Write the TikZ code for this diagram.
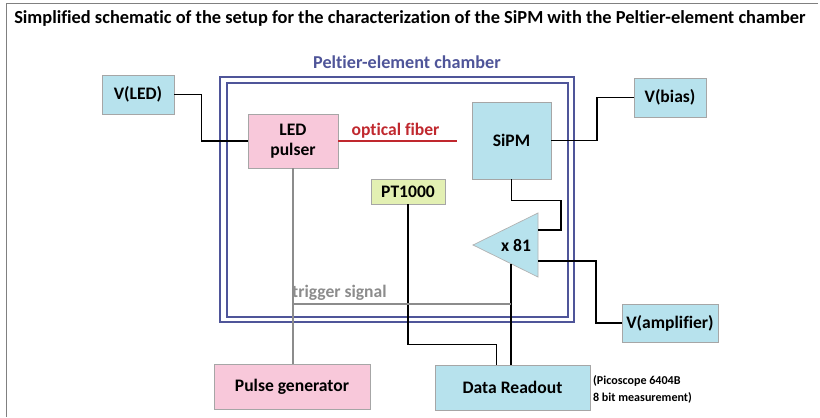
\documentclass[tikz,border=0pt]{standalone}
\usepackage{fontspec}
\setmainfont[Ligatures=NoCommon]{Carlito}
\definecolor{boxblue}{HTML}{B7E2ED}
\definecolor{boxpink}{HTML}{F8C8DA}
\definecolor{boxgreen}{HTML}{E3F0B3}
\definecolor{chamber}{HTML}{4F5599}
\definecolor{fiberred}{HTML}{C0282E}
\definecolor{trig}{HTML}{8C8C8C}
\tikzset{
  box/.style={draw=gray!70, line width=0.6pt, font=\fontsize{15}{17}\selectfont\bfseries, align=center, inner sep=0pt},
  sz/.style 2 args={minimum width=#1*0.03cm, minimum height=#2*0.03cm},
  wire/.style={line width=1.1pt, black},
  walls/.style={line width=1.2pt, draw=chamber}
}
\begin{document}
\begin{tikzpicture}[x=0.03cm, y=-0.03cm]
    \useasboundingbox (0,0) rectangle (820,417);
    % frame and title
    \draw [gray, line width=0.8pt] (818,3) -- (6,3) -- (6,417);
    \node (title) at (410,18) {\fontsize{15.7}{18}\selectfont\bfseries Simplified schematic of the setup for the characterization of the SiPM with the Peltier-element chamber};
    % chamber
    \draw [walls] (220,77) rectangle (574,322);
    \draw [walls] (227,83) rectangle (568,317);
    \node [chamber, font=\fontsize{15.5}{17}\selectfont\bfseries] (chlabel) at (407,62) {Peltier-element chamber};
    % boxes
    \node [box, sz={72}{39}, fill=boxblue] (vled) at (138,94.5) {V(LED)};
    \node [box, sz={90}{54}, fill=boxpink] (led) at (293,141) {LED\\pulser};
    \node [box, sz={79}{77}, fill=boxblue] (sipm) at (511.5,140.5) {SiPM};
    \node [box, sz={72}{39}, fill=boxblue] (vbias) at (670,97.5) {V(bias)};
    \node [box, sz={74}{25}, fill=boxgreen] (pt) at (408,191.5) {PT1000};
    \node [box, sz={96}{38}, fill=boxblue] (vamp) at (670,323) {V(amplifier)};
    \node [box, sz={156}{45}, fill=boxpink] (pg) at (292,386.5) {Pulse generator};
    \node [box, sz={155}{45}, fill=boxblue] (ro) at (512.5,387.5) {Data Readout};
    \node [anchor=west, align=left, font=\fontsize{10.3}{14.5}\selectfont\bfseries] (note) at (589,389) {(Picoscope 6404B\\8 bit measurement)};
    % amplifier
    \coordinate (ampin) at (538,230);
    \coordinate (ampout) at (538,261);
    \coordinate (ampbot) at (511,264);
    \draw [draw=gray!60, line width=0.6pt, fill=boxblue] (473,245) -- (538,213) -- (538,277) -- cycle;
    \node [font=\fontsize{15}{17}\selectfont\bfseries] (amp) at (516,245) {x 81};
    % wires
    \draw [wire] (vled.east) -- ++(27,0) |- (led.west);
    \draw [wire] (sipm.east) -| (597,120) |- (vbias.west);
    \draw [wire] (pt.south) -- ++(0,140) -| ([xshift=-16*0.03cm]ro.north);
    \draw [wire] (sipm.south) -- ++(0,21) -| (561,215) |- (ampin);
    \draw [wire] (ampout) -- (596,261) |- (vamp.west);
    \draw [wire] (ampbot) -- (ampbot |- ro.north);
    % optical fiber
    \coordinate (fiberend) at (457,141);
    \draw [fiberred, line width=1.6pt] (led.east) -- (fiberend);
    \node [fiberred, font=\fontsize{15}{17}\selectfont\bfseries] (fiberlabel) at (395.5,131) {optical fiber};
    % trigger signal
    \coordinate (trigstart) at (led.south |- 0,304);
    \draw [trig, line width=1.1pt] (led.south) -- (led.south |- pg.north);
    \draw [trig, line width=1.1pt] (trigstart) -- (ampbot |- trigstart);
    \node [trig, anchor=west, font=\fontsize{15}{17}\selectfont\bfseries, inner sep=0pt] (triglabel) at (292,293) {trigger signal};
\end{tikzpicture}
\end{document}
